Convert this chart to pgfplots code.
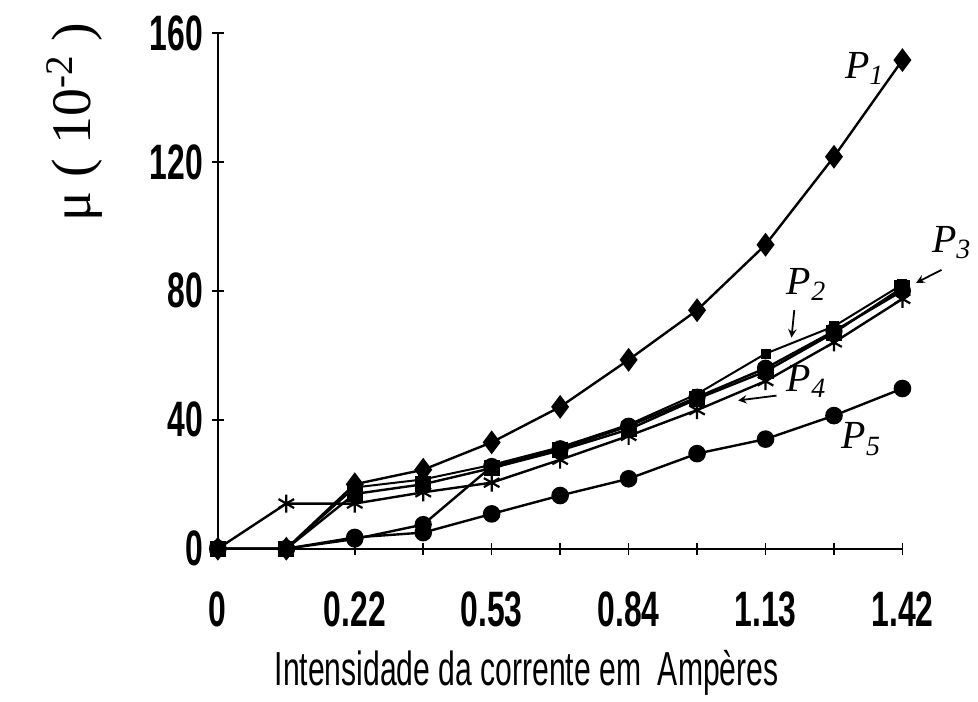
\documentclass[border=0pt]{standalone}
\usepackage{pgfplots}
\pgfplotsset{compat=1.18}
\usepackage{fontspec}
\setmainfont{Liberation Sans}
\newfontfamily\serif{Liberation Serif}
\usepackage{graphicx}
\newcommand{\tl}[1]{\scalebox{0.64}[1]{#1}}
\begin{document}
\begin{tikzpicture}
\begin{axis}[
  scale only axis, width=342.5bp, height=258bp,
  xmin=0, xmax=10, ymin=0, ymax=160,
  axis lines=left, axis line style={-, line width=1bp},
  xtick={0,...,10},
  xticklabels={\tl{0},,\tl{0.22},,\tl{0.53},,\tl{0.84},,\tl{1.13},,\tl{1.42}},
  ytick={0,40,80,120,160},
  yticklabels={\tl{0},\tl{40},\tl{80},\tl{120},\tl{160}},
  tick align=center, major tick length=6bp,
  tick style={black, line width=0.8bp},
  ticklabel style={font=\fontsize{25}{28}\selectfont\bfseries},
  xticklabel style={yshift=-15bp},
  yticklabel style={xshift=-1bp},
  ylabel={\serif\fontsize{28}{32}\selectfont μ\ (\ 10\textsuperscript{-2}\ )},
  ylabel style={at={(rel axis cs:-0.21,0.8275)}, anchor=center},
  xlabel={\scalebox{0.63}[1]{\fontsize{24}{28}\selectfont Intensidade da corrente em\ \ Ampères}},
  xlabel style={at={(rel axis cs:0.451,-0.24)}, anchor=center},
  clip=false,
  every axis plot/.append style={black, line width=1.2bp, mark options={solid, fill=black}},
]
% P1 diamonds
\addplot[mark=diamond*, mark size=5bp] coordinates {
 (0,0) (1,0) (2,20) (3,24.5) (4,33) (5,44) (6,58.6) (7,74) (8,94.3) (9,121.6) (10,151.6)};
% P2 (upper thin line of middle bundle)
\addplot[mark=square*, mark size=2bp, line width=1bp] coordinates {
 (0,0) (1,0) (2,19) (3,21.5) (4,26) (5,31.5) (6,38.5) (7,48) (8,60.5) (9,69) (10,82)};
% P3 squares
\addplot[mark=square*, mark size=3.4bp] coordinates {
 (0,0) (1,0) (2,17) (3,20) (4,25) (5,30.5) (6,37) (7,46.5) (8,55) (9,67) (10,81)};
% series starting low
\addplot[mark=*, mark size=3.7bp] coordinates {
 (0,0) (1,0) (2,3) (3,7.5) (4,25.5) (5,31) (6,38) (7,47) (8,56) (9,67.5) (10,80)};
% P4 asterisks
\addplot[mark=asterisk, mark size=4.5bp, mark options={line width=1.1bp}] coordinates {
 (0,0) (1,14) (2,14) (3,17.5) (4,20.5) (5,27.6) (6,35) (7,43) (8,52) (9,64) (10,77.5)};
% P5 circles
\addplot[mark=*, mark size=3.8bp] coordinates {
 (0,0) (1,0) (2,3.5) (3,5) (4,10.8) (5,16.5) (6,21.7) (7,29.5) (8,34) (9,41.3) (10,49.7)};
% handwritten labels
\node[font=\serif\itshape\fontsize{20}{22}\selectfont] at (axis cs:9.45,149) {P\textsubscript{1}};
\node[font=\serif\itshape\fontsize{20}{22}\selectfont] at (axis cs:8.6,82) {P\textsubscript{2}};
\node[font=\serif\itshape\fontsize{20}{22}\selectfont] at (axis cs:10.72,95) {P\textsubscript{3}};
\node[font=\serif\itshape\fontsize{20}{22}\selectfont] at (axis cs:8.6,52) {P\textsubscript{4}};
\node[font=\serif\itshape\fontsize{20}{22}\selectfont] at (axis cs:9.4,34) {P\textsubscript{5}};
\draw[-stealth, line width=0.9bp] (axis cs:8.42,74) -- (axis cs:8.38,65.5);
\draw[-stealth, line width=0.9bp] (axis cs:10.57,86.5) -- (axis cs:10.2,82.5);
\draw[-stealth, line width=0.9bp] (axis cs:8.16,47.5) -- (axis cs:7.6,46);
\path (rel axis cs:-0.3182,-0.2926) rectangle (rel axis cs:1.1095,1.064);
\end{axis}
\end{tikzpicture}
\end{document}
